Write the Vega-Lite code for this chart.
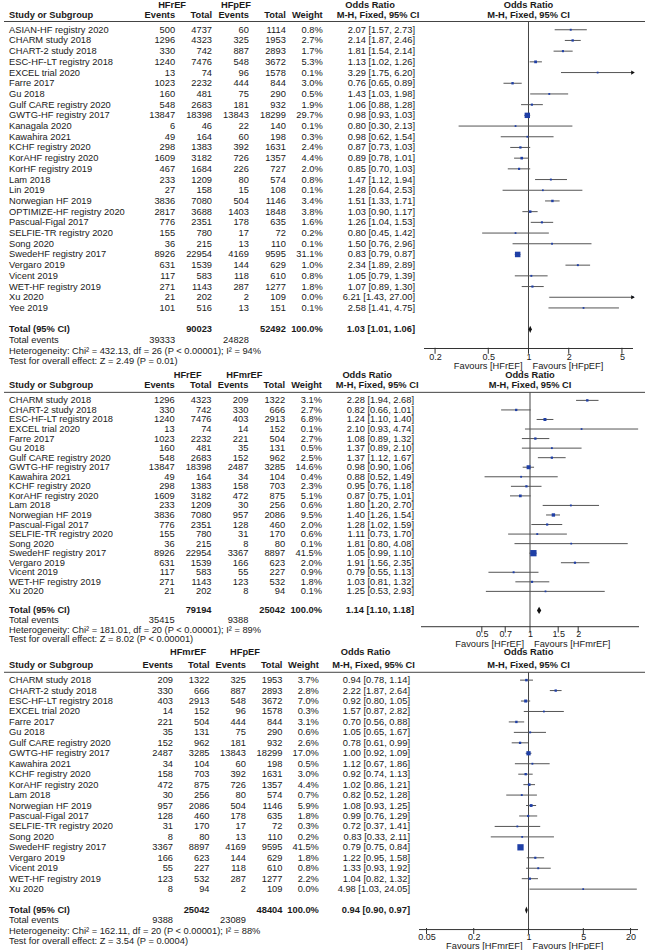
{
"$schema": "https://vega.github.io/schema/vega-lite/v6.json",
"padding": {"left": 3, "right": 3, "top": 0, "bottom": 0},
"bounds": "flush",
"spacing": 9.5,
"config": {"view": {"stroke": null}, "font": "Liberation Sans", "text": {"fontSize": 9.3, "color": "#1a1a1a", "baseline": "middle"}},
"datasets": {
"p1": [
{"row":"ASIAN-HF registry 2020","kind":"study","e1":500,"t1":4737,"e2":60,"t2":1114,"w":0.8,"or":2.07,"lo":1.57,"hi":2.73},
{"row":"CHARM study 2018","kind":"study","e1":1296,"t1":4323,"e2":325,"t2":1953,"w":2.7,"or":2.14,"lo":1.87,"hi":2.46},
{"row":"CHART-2 study 2018","kind":"study","e1":330,"t1":742,"e2":887,"t2":2893,"w":1.7,"or":1.81,"lo":1.54,"hi":2.14},
{"row":"ESC-HF-LT registry 2018","kind":"study","e1":1240,"t1":7476,"e2":548,"t2":3672,"w":5.3,"or":1.13,"lo":1.02,"hi":1.26},
{"row":"EXCEL trial 2020","kind":"study","e1":13,"t1":74,"e2":96,"t2":1578,"w":0.1,"or":3.29,"lo":1.75,"hi":6.20},
{"row":"Farre 2017","kind":"study","e1":1023,"t1":2232,"e2":444,"t2":844,"w":3.0,"or":0.76,"lo":0.65,"hi":0.89},
{"row":"Gu 2018","kind":"study","e1":160,"t1":481,"e2":75,"t2":290,"w":0.5,"or":1.43,"lo":1.03,"hi":1.98},
{"row":"Gulf CARE registry 2020","kind":"study","e1":548,"t1":2683,"e2":181,"t2":932,"w":1.9,"or":1.06,"lo":0.88,"hi":1.28},
{"row":"GWTG-HF registry 2017","kind":"study","e1":13847,"t1":18398,"e2":13843,"t2":18299,"w":29.7,"or":0.98,"lo":0.93,"hi":1.03},
{"row":"Kanagala 2020","kind":"study","e1":6,"t1":46,"e2":22,"t2":140,"w":0.1,"or":0.80,"lo":0.30,"hi":2.13},
{"row":"Kawahira 2021","kind":"study","e1":49,"t1":164,"e2":60,"t2":198,"w":0.3,"or":0.98,"lo":0.62,"hi":1.54},
{"row":"KCHF registry 2020","kind":"study","e1":298,"t1":1383,"e2":392,"t2":1631,"w":2.4,"or":0.87,"lo":0.73,"hi":1.03},
{"row":"KorAHF registry 2020","kind":"study","e1":1609,"t1":3182,"e2":726,"t2":1357,"w":4.4,"or":0.89,"lo":0.78,"hi":1.01},
{"row":"KorHF registry 2019","kind":"study","e1":467,"t1":1684,"e2":226,"t2":727,"w":2.0,"or":0.85,"lo":0.70,"hi":1.03},
{"row":"Lam 2018","kind":"study","e1":233,"t1":1209,"e2":80,"t2":574,"w":0.8,"or":1.47,"lo":1.12,"hi":1.94},
{"row":"Lin 2019","kind":"study","e1":27,"t1":158,"e2":15,"t2":108,"w":0.1,"or":1.28,"lo":0.64,"hi":2.53},
{"row":"Norwegian HF 2019","kind":"study","e1":3836,"t1":7080,"e2":504,"t2":1146,"w":3.4,"or":1.51,"lo":1.33,"hi":1.71},
{"row":"OPTIMIZE-HF registry 2020","kind":"study","e1":2817,"t1":3688,"e2":1403,"t2":1848,"w":3.8,"or":1.03,"lo":0.90,"hi":1.17},
{"row":"Pascual-Figal 2017","kind":"study","e1":776,"t1":2351,"e2":178,"t2":635,"w":1.6,"or":1.26,"lo":1.04,"hi":1.53},
{"row":"SELFIE-TR registry 2020","kind":"study","e1":155,"t1":780,"e2":17,"t2":72,"w":0.2,"or":0.80,"lo":0.45,"hi":1.42},
{"row":"Song 2020","kind":"study","e1":36,"t1":215,"e2":13,"t2":110,"w":0.1,"or":1.50,"lo":0.76,"hi":2.96},
{"row":"SwedeHF registry 2017","kind":"study","e1":8926,"t1":22954,"e2":4169,"t2":9595,"w":31.1,"or":0.83,"lo":0.79,"hi":0.87},
{"row":"Vergaro 2019","kind":"study","e1":631,"t1":1539,"e2":144,"t2":629,"w":1.0,"or":2.34,"lo":1.89,"hi":2.89},
{"row":"Vicent 2019","kind":"study","e1":117,"t1":583,"e2":118,"t2":610,"w":0.8,"or":1.05,"lo":0.79,"hi":1.39},
{"row":"WET-HF registry 2019","kind":"study","e1":271,"t1":1143,"e2":287,"t2":1277,"w":1.8,"or":1.07,"lo":0.89,"hi":1.30},
{"row":"Xu 2020","kind":"study","e1":21,"t1":202,"e2":2,"t2":109,"w":0.0,"or":6.21,"lo":1.43,"hi":27.00},
{"row":"Yee 2019","kind":"study","e1":101,"t1":516,"e2":13,"t2":151,"w":0.1,"or":2.58,"lo":1.41,"hi":4.75},
{"row":"Total (95% CI)","kind":"total","t1":90023,"t2":52492,"w":100,"or":1.03,"lo":1.01,"hi":1.06},
{"row":"Total events","kind":"events","e1":39333,"e2":24828},
{"row":"het","kind":"note","label":"Heterogeneity: Chi² = 432.13, df = 26 (P < 0.00001); I² = 94%"},
{"row":"test","kind":"note","label":"Test for overall effect: Z = 2.49 (P = 0.01)"}
],
"p2": [
{"row":"CHARM study 2018","kind":"study","e1":1296,"t1":4323,"e2":209,"t2":1322,"w":3.1,"or":2.28,"lo":1.94,"hi":2.68},
{"row":"CHART-2 study 2018","kind":"study","e1":330,"t1":742,"e2":330,"t2":666,"w":2.7,"or":0.82,"lo":0.66,"hi":1.01},
{"row":"ESC-HF-LT registry 2018","kind":"study","e1":1240,"t1":7476,"e2":403,"t2":2913,"w":6.8,"or":1.24,"lo":1.10,"hi":1.40},
{"row":"EXCEL trial 2020","kind":"study","e1":13,"t1":74,"e2":14,"t2":152,"w":0.1,"or":2.10,"lo":0.93,"hi":4.74},
{"row":"Farre 2017","kind":"study","e1":1023,"t1":2232,"e2":221,"t2":504,"w":2.7,"or":1.08,"lo":0.89,"hi":1.32},
{"row":"Gu 2018","kind":"study","e1":160,"t1":481,"e2":35,"t2":131,"w":0.5,"or":1.37,"lo":0.89,"hi":2.10},
{"row":"Gulf CARE registry 2020","kind":"study","e1":548,"t1":2683,"e2":152,"t2":962,"w":2.5,"or":1.37,"lo":1.12,"hi":1.67},
{"row":"GWTG-HF registry 2017","kind":"study","e1":13847,"t1":18398,"e2":2487,"t2":3285,"w":14.6,"or":0.98,"lo":0.90,"hi":1.06},
{"row":"Kawahira 2021","kind":"study","e1":49,"t1":164,"e2":34,"t2":104,"w":0.4,"or":0.88,"lo":0.52,"hi":1.49},
{"row":"KCHF registry 2020","kind":"study","e1":298,"t1":1383,"e2":158,"t2":703,"w":2.3,"or":0.95,"lo":0.76,"hi":1.18},
{"row":"KorAHF registry 2020","kind":"study","e1":1609,"t1":3182,"e2":472,"t2":875,"w":5.1,"or":0.87,"lo":0.75,"hi":1.01},
{"row":"Lam 2018","kind":"study","e1":233,"t1":1209,"e2":30,"t2":256,"w":0.6,"or":1.80,"lo":1.20,"hi":2.70},
{"row":"Norwegian HF 2019","kind":"study","e1":3836,"t1":7080,"e2":957,"t2":2086,"w":9.5,"or":1.40,"lo":1.26,"hi":1.54},
{"row":"Pascual-Figal 2017","kind":"study","e1":776,"t1":2351,"e2":128,"t2":460,"w":2.0,"or":1.28,"lo":1.02,"hi":1.59},
{"row":"SELFIE-TR registry 2020","kind":"study","e1":155,"t1":780,"e2":31,"t2":170,"w":0.6,"or":1.11,"lo":0.73,"hi":1.70},
{"row":"Song 2020","kind":"study","e1":36,"t1":215,"e2":8,"t2":80,"w":0.1,"or":1.81,"lo":0.80,"hi":4.08},
{"row":"SwedeHF registry 2017","kind":"study","e1":8926,"t1":22954,"e2":3367,"t2":8897,"w":41.5,"or":1.05,"lo":0.99,"hi":1.10},
{"row":"Vergaro 2019","kind":"study","e1":631,"t1":1539,"e2":166,"t2":623,"w":2.0,"or":1.91,"lo":1.56,"hi":2.35},
{"row":"Vicent 2019","kind":"study","e1":117,"t1":583,"e2":55,"t2":227,"w":0.9,"or":0.79,"lo":0.55,"hi":1.13},
{"row":"WET-HF registry 2019","kind":"study","e1":271,"t1":1143,"e2":123,"t2":532,"w":1.8,"or":1.03,"lo":0.81,"hi":1.32},
{"row":"Xu 2020","kind":"study","e1":21,"t1":202,"e2":8,"t2":94,"w":0.1,"or":1.25,"lo":0.53,"hi":2.93},
{"row":"Total (95% CI)","kind":"total","t1":79194,"t2":25042,"w":100,"or":1.14,"lo":1.10,"hi":1.18},
{"row":"Total events","kind":"events","e1":35415,"e2":9388},
{"row":"het","kind":"note","label":"Heterogeneity: Chi² = 181.01, df = 20 (P < 0.00001); I² = 89%"},
{"row":"test","kind":"note","label":"Test for overall effect: Z = 8.02 (P < 0.00001)"}
],
"p3": [
{"row":"CHARM study 2018","kind":"study","e1":209,"t1":1322,"e2":325,"t2":1953,"w":3.7,"or":0.94,"lo":0.78,"hi":1.14},
{"row":"CHART-2 study 2018","kind":"study","e1":330,"t1":666,"e2":887,"t2":2893,"w":2.8,"or":2.22,"lo":1.87,"hi":2.64},
{"row":"ESC-HF-LT registry 2018","kind":"study","e1":403,"t1":2913,"e2":548,"t2":3672,"w":7.0,"or":0.92,"lo":0.80,"hi":1.05},
{"row":"EXCEL trial 2020","kind":"study","e1":14,"t1":152,"e2":96,"t2":1578,"w":0.3,"or":1.57,"lo":0.87,"hi":2.82},
{"row":"Farre 2017","kind":"study","e1":221,"t1":504,"e2":444,"t2":844,"w":3.1,"or":0.70,"lo":0.56,"hi":0.88},
{"row":"Gu 2018","kind":"study","e1":35,"t1":131,"e2":75,"t2":290,"w":0.6,"or":1.05,"lo":0.65,"hi":1.67},
{"row":"Gulf CARE registry 2020","kind":"study","e1":152,"t1":962,"e2":181,"t2":932,"w":2.6,"or":0.78,"lo":0.61,"hi":0.99},
{"row":"GWTG-HF registry 2017","kind":"study","e1":2487,"t1":3285,"e2":13843,"t2":18299,"w":17.0,"or":1.00,"lo":0.92,"hi":1.09},
{"row":"Kawahira 2021","kind":"study","e1":34,"t1":104,"e2":60,"t2":198,"w":0.5,"or":1.12,"lo":0.67,"hi":1.86},
{"row":"KCHF registry 2020","kind":"study","e1":158,"t1":703,"e2":392,"t2":1631,"w":3.0,"or":0.92,"lo":0.74,"hi":1.13},
{"row":"KorAHF registry 2020","kind":"study","e1":472,"t1":875,"e2":726,"t2":1357,"w":4.4,"or":1.02,"lo":0.86,"hi":1.21},
{"row":"Lam 2018","kind":"study","e1":30,"t1":256,"e2":80,"t2":574,"w":0.7,"or":0.82,"lo":0.52,"hi":1.28},
{"row":"Norwegian HF 2019","kind":"study","e1":957,"t1":2086,"e2":504,"t2":1146,"w":5.9,"or":1.08,"lo":0.93,"hi":1.25},
{"row":"Pascual-Figal 2017","kind":"study","e1":128,"t1":460,"e2":178,"t2":635,"w":1.8,"or":0.99,"lo":0.76,"hi":1.29},
{"row":"SELFIE-TR registry 2020","kind":"study","e1":31,"t1":170,"e2":17,"t2":72,"w":0.3,"or":0.72,"lo":0.37,"hi":1.41},
{"row":"Song 2020","kind":"study","e1":8,"t1":80,"e2":13,"t2":110,"w":0.2,"or":0.83,"lo":0.33,"hi":2.11},
{"row":"SwedeHF registry 2017","kind":"study","e1":3367,"t1":8897,"e2":4169,"t2":9595,"w":41.5,"or":0.79,"lo":0.75,"hi":0.84},
{"row":"Vergaro 2019","kind":"study","e1":166,"t1":623,"e2":144,"t2":629,"w":1.8,"or":1.22,"lo":0.95,"hi":1.58},
{"row":"Vicent 2019","kind":"study","e1":55,"t1":227,"e2":118,"t2":610,"w":0.8,"or":1.33,"lo":0.93,"hi":1.92},
{"row":"WET-HF registry 2019","kind":"study","e1":123,"t1":532,"e2":287,"t2":1277,"w":2.2,"or":1.04,"lo":0.82,"hi":1.32},
{"row":"Xu 2020","kind":"study","e1":8,"t1":94,"e2":2,"t2":109,"w":0.0,"or":4.98,"lo":1.03,"hi":24.05},
{"row":"Total (95% CI)","kind":"total","t1":25042,"t2":48404,"w":100,"or":0.94,"lo":0.90,"hi":0.97},
{"row":"Total events","kind":"events","e1":9388,"e2":23089},
{"row":"het","kind":"note","label":"Heterogeneity: Chi² = 162.11, df = 20 (P < 0.00001); I² = 88%"},
{"row":"test","kind":"note","label":"Test for overall effect: Z = 3.54 (P = 0.0004)"}
]
},
"vconcat": [
{
"width": 641,
"height": {"step": 10.7},
"data": {"name": "p1"},
"encoding": {"y": {"field": "row", "type": "nominal", "axis": null, "scale": {"type": "band", "paddingInner": 0, "paddingOuter": 0, "domain": ["hdr1","hdr2","ASIAN-HF registry 2020","CHARM study 2018","CHART-2 study 2018","ESC-HF-LT registry 2018","EXCEL trial 2020","Farre 2017","Gu 2018","Gulf CARE registry 2020","GWTG-HF registry 2017","Kanagala 2020","Kawahira 2021","KCHF registry 2020","KorAHF registry 2020","KorHF registry 2019","Lam 2018","Lin 2019","Norwegian HF 2019","OPTIMIZE-HF registry 2020","Pascual-Figal 2017","SELFIE-TR registry 2020","Song 2020","SwedeHF registry 2017","Vergaro 2019","Vicent 2019","WET-HF registry 2019","Xu 2020","Yee 2019","gap","Total (95% CI)","Total events","het","test"]}}},
"layer": [
{"data": {"values": [{}]}, "mark": {"type": "rule", "color": "#444", "strokeWidth": 1}, "encoding": {"y": {"datum": "hdr2", "bandPosition": 0.73, "axis": null}}},
{"layer": [
{"transform": [
{"calculate": "datum.label ? datum.label : datum.row", "as": "name"},
{"calculate": "isValid(datum.w) ? format(datum.w, '.1f') + '%' : null", "as": "wtxt"},
{"calculate": "isValid(datum.or) ? format(datum.or, '.2f') + ' [' + format(datum.lo, '.2f') + ', ' + format(datum.hi, '.2f') + ']' : null", "as": "ortxt"},
{"fold": ["name","e1","t1","e2","t2","wtxt","ortxt"], "as": ["col","val"]},
{"filter": "isValid(datum.val)"}],
"mark": {"type": "text", "align": {"expr": "datum.col === 'name' ? 'left' : 'right'"}, "fontWeight": {"expr": "datum.kind === 'total' ? 'bold' : 'normal'"}},
"encoding": {"x": {"field": "col", "type": "nominal", "axis": null, "scale": {"type": "point", "padding": 0, "range": [5, 411], "domain": ["name","s1","s2","s3","s4","s5","s6","s7","s8","e1","s10","t1","s12","e2","s14","t2","s16","wtxt","s18","s19","orhdr","s21","ortxt"]}}, "text": {"field": "val", "type": "nominal"}}},
{"data": {"values": [{"col":"name","txt":"Study or Subgroup"},{"col":"e1","txt":"Events"},{"col":"t1","txt":"Total"},{"col":"e2","txt":"Events"},{"col":"t2","txt":"Total"},{"col":"wtxt","txt":"Weight"},{"col":"orhdr","txt":"M-H, Fixed, 95% CI"}]},
"mark": {"type": "text", "fontWeight": "bold", "dy": -4.5, "align": {"expr": "datum.col === 'name' ? 'left' : datum.col === 'orhdr' ? 'center' : 'right'"}},
"encoding": {"x": {"field": "col", "type": "nominal", "axis": null}, "y": {"datum": "hdr2", "axis": null}, "text": {"field": "txt", "type": "nominal"}}},
{"data": {"values": [{"col":"e1","txt":"HFrEF","shift":-3},{"col":"e2","txt":"HFpEF","shift":-13},{"col":"orhdr","txt":"Odds Ratio","shift":-8}]},
"mark": {"type": "text", "fontWeight": "bold", "dy": -3.8, "align": "center", "dx": {"expr": "datum.shift"}},
"encoding": {"x": {"field": "col", "type": "nominal", "axis": null}, "y": {"datum": "hdr1", "axis": null}, "text": {"field": "txt", "type": "nominal"}}}
]},
{"layer": [
{"data": {"values": [{}]}, "mark": {"type": "rule", "color": "#444", "strokeWidth": 1},
"encoding": {"x": {"datum": 1, "type": "quantitative", "scale": {"type": "log", "domain": [0.1653, 6.05], "range": [420, 629], "nice": false, "clamp": true}, "axis": {"orient": "bottom", "offset": -18.3, "values": [0.2, 0.5, 1, 2, 5], "format": "~g", "title": null, "grid": false, "domain": false, "ticks": false, "tickSize": 0, "labelPadding": 4, "labelFontSize": 9, "labelColor": "#1a1a1a", "labelFlush": false, "labelOverlap": false}}, "y": {"datum": "hdr2", "bandPosition": 0.73, "axis": null}, "y2": {"datum": "het", "bandPosition": 0.29}}},
{"data": {"values": [{}]}, "mark": {"type": "rule", "color": "#333", "strokeWidth": 1},
"encoding": {"x": {"datum": 0.1653, "type": "quantitative"}, "x2": {"datum": 6.05}, "y": {"datum": "het", "bandPosition": 0.29, "axis": null}}},
{"data": {"values": [{"v":0.2},{"v":0.5},{"v":1},{"v":2},{"v":5}]}, "mark": {"type": "tick", "orient": "vertical", "color": "#333", "thickness": 1, "size": 6, "opacity": 1},
"encoding": {"x": {"field": "v", "type": "quantitative"}, "y": {"datum": "het", "bandPosition": 0.29, "axis": null}}},
{"transform": [{"filter": "datum.kind === 'study'"}], "mark": {"type": "rule", "color": "#555", "strokeWidth": 1},
"encoding": {"x": {"field": "lo", "type": "quantitative"}, "x2": {"field": "hi"}}},
{"transform": [{"filter": "datum.kind === 'study'"}], "mark": {"type": "point", "shape": "square", "filled": true, "color": "#1f3fa6", "opacity": 1, "strokeWidth": 0},
"encoding": {"x": {"field": "or", "type": "quantitative"}, "size": {"field": "w", "type": "quantitative", "legend": null, "scale": {"domain": [0, 42], "range": [3, 40]}}}},
{"transform": [{"filter": "datum.kind === 'study' && datum.hi > 6.05"}], "mark": {"type": "point", "shape": "triangle-right", "filled": true, "color": "#111", "opacity": 1, "size": 18},
"encoding": {"x": {"field": "hi", "type": "quantitative"}}},
{"transform": [{"filter": "datum.kind === 'total'"}], "mark": {"type": "point", "shape": "M0,-1L0.45,0L0,1L-0.45,0Z", "filled": true, "color": "#111", "opacity": 1, "size": 52},
"encoding": {"x": {"field": "or", "type": "quantitative"}}},
{"data": {"values": [{"r":"hdr1","txt":"Odds Ratio","d":-3.8},{"r":"hdr2","txt":"M-H, Fixed, 95% CI","d":-4.5}]}, "mark": {"type": "text", "fontWeight": "bold", "align": "center", "dy": {"expr": "datum.d"}},
"encoding": {"x": {"datum": 1, "type": "quantitative"}, "y": {"field": "r", "type": "nominal", "axis": null}, "text": {"field": "txt", "type": "nominal"}}},
{"data": {"values": [{"txt":"Favours [HFrEF]","side":"left"},{"txt":"Favours [HFpEF]","side":"right"}]}, "mark": {"type": "text", "dy": 5, "align": {"expr": "datum.side === 'left' ? 'right' : 'left'"}, "dx": {"expr": "datum.side === 'left' ? -6 : 4"}},
"encoding": {"x": {"datum": 1, "type": "quantitative"}, "y": {"datum": "test", "axis": null}, "text": {"field": "txt", "type": "nominal"}}}
]}
],
"resolve": {"scale": {"x": "independent"}}
},
{
"width": 641,
"height": {"step": 9.55},
"data": {"name": "p2"},
"encoding": {"y": {"field": "row", "type": "nominal", "axis": null, "scale": {"type": "band", "paddingInner": 0, "paddingOuter": 0, "domain": ["hdr1","hdr2","CHARM study 2018","CHART-2 study 2018","ESC-HF-LT registry 2018","EXCEL trial 2020","Farre 2017","Gu 2018","Gulf CARE registry 2020","GWTG-HF registry 2017","Kawahira 2021","KCHF registry 2020","KorAHF registry 2020","Lam 2018","Norwegian HF 2019","Pascual-Figal 2017","SELFIE-TR registry 2020","Song 2020","SwedeHF registry 2017","Vergaro 2019","Vicent 2019","WET-HF registry 2019","Xu 2020","gap","Total (95% CI)","Total events","het","test"]}}},
"layer": [
{"data": {"values": [{}]}, "mark": {"type": "rule", "color": "#444", "strokeWidth": 1}, "encoding": {"y": {"datum": "hdr2", "bandPosition": 0.66, "axis": null}}},
{"layer": [
{"transform": [
{"calculate": "datum.label ? datum.label : datum.row", "as": "name"},
{"calculate": "isValid(datum.w) ? format(datum.w, '.1f') + '%' : null", "as": "wtxt"},
{"calculate": "isValid(datum.or) ? format(datum.or, '.2f') + ' [' + format(datum.lo, '.2f') + ', ' + format(datum.hi, '.2f') + ']' : null", "as": "ortxt"},
{"fold": ["name","e1","t1","e2","t2","wtxt","ortxt"], "as": ["col","val"]},
{"filter": "isValid(datum.val)"}],
"mark": {"type": "text", "align": {"expr": "datum.col === 'name' ? 'left' : 'right'"}, "fontWeight": {"expr": "datum.kind === 'total' ? 'bold' : 'normal'"}},
"encoding": {"x": {"field": "col", "type": "nominal", "axis": null, "scale": {"type": "point", "padding": 0, "range": [5, 410], "domain": ["name","s1","s2","s3","s4","s5","s6","s7","s8","e1","s10","t1","s12","e2","s14","t2","s16","wtxt","s18","s19","orhdr","s21","ortxt"]}}, "text": {"field": "val", "type": "nominal"}}},
{"data": {"values": [{"col":"name","txt":"Study or Subgroup"},{"col":"e1","txt":"Events"},{"col":"t1","txt":"Total"},{"col":"e2","txt":"Events"},{"col":"t2","txt":"Total"},{"col":"wtxt","txt":"Weight"},{"col":"orhdr","txt":"M-H, Fixed, 95% CI"}]},
"mark": {"type": "text", "fontWeight": "bold", "dy": -6.1, "align": {"expr": "datum.col === 'name' ? 'left' : datum.col === 'orhdr' ? 'center' : 'right'"}},
"encoding": {"x": {"field": "col", "type": "nominal", "axis": null}, "y": {"datum": "hdr2", "axis": null}, "text": {"field": "txt", "type": "nominal"}}},
{"data": {"values": [{"col":"e1","txt":"HFrEF","shift":13},{"col":"e2","txt":"HFmrEF","shift":-4},{"col":"orhdr","txt":"Odds Ratio","shift":-10}]},
"mark": {"type": "text", "fontWeight": "bold", "dy": -6.6, "align": "center", "dx": {"expr": "datum.shift"}},
"encoding": {"x": {"field": "col", "type": "nominal", "axis": null}, "y": {"datum": "hdr1", "axis": null}, "text": {"field": "txt", "type": "nominal"}}}
]},
{"layer": [
{"data": {"values": [{}]}, "mark": {"type": "rule", "color": "#444", "strokeWidth": 1},
"encoding": {"x": {"datum": 1, "type": "quantitative", "scale": {"type": "log", "domain": [0.2084, 4.798], "range": [417, 635], "nice": false, "clamp": true}, "axis": {"orient": "bottom", "offset": -17.2, "values": [0.5, 0.7, 1, 1.5, 2], "format": "~g", "title": null, "grid": false, "domain": false, "ticks": false, "tickSize": 0, "labelPadding": 3, "labelFontSize": 9, "labelColor": "#1a1a1a", "labelFlush": false, "labelOverlap": false}}, "y": {"datum": "hdr2", "bandPosition": 0.66, "axis": null}, "y2": {"datum": "het", "bandPosition": 0.2}}},
{"data": {"values": [{}]}, "mark": {"type": "rule", "color": "#333", "strokeWidth": 1},
"encoding": {"x": {"datum": 0.2084, "type": "quantitative"}, "x2": {"datum": 4.798}, "y": {"datum": "het", "bandPosition": 0.2, "axis": null}}},
{"data": {"values": [{"v":0.5},{"v":0.7},{"v":1},{"v":1.5},{"v":2}]}, "mark": {"type": "tick", "orient": "vertical", "color": "#333", "thickness": 1, "size": 6, "opacity": 1},
"encoding": {"x": {"field": "v", "type": "quantitative"}, "y": {"datum": "het", "bandPosition": 0.2, "axis": null}}},
{"transform": [{"filter": "datum.kind === 'study'"}], "mark": {"type": "rule", "color": "#555", "strokeWidth": 1},
"encoding": {"x": {"field": "lo", "type": "quantitative"}, "x2": {"field": "hi"}}},
{"transform": [{"filter": "datum.kind === 'study'"}], "mark": {"type": "point", "shape": "square", "filled": true, "color": "#1f3fa6", "opacity": 1, "strokeWidth": 0},
"encoding": {"x": {"field": "or", "type": "quantitative"}, "size": {"field": "w", "type": "quantitative", "legend": null, "scale": {"domain": [0, 42], "range": [3, 40]}}}},
{"transform": [{"filter": "datum.kind === 'total'"}], "mark": {"type": "point", "shape": "M0,-1L0.6,0L0,1L-0.6,0Z", "filled": true, "color": "#111", "opacity": 1, "size": 52},
"encoding": {"x": {"field": "or", "type": "quantitative"}}},
{"data": {"values": [{"r":"hdr1","txt":"Odds Ratio","d":-6.6},{"r":"hdr2","txt":"M-H, Fixed, 95% CI","d":-6.1}]}, "mark": {"type": "text", "fontWeight": "bold", "align": "center", "dy": {"expr": "datum.d"}},
"encoding": {"x": {"datum": 1, "type": "quantitative"}, "y": {"field": "r", "type": "nominal", "axis": null}, "text": {"field": "txt", "type": "nominal"}}},
{"data": {"values": [{"txt":"Favours [HFrEF]","side":"left"},{"txt":"Favours [HFmrEF]","side":"right"}]}, "mark": {"type": "text", "dy": 5.2, "align": {"expr": "datum.side === 'left' ? 'right' : 'left'"}, "dx": {"expr": "datum.side === 'left' ? -6 : 4"}},
"encoding": {"x": {"datum": 1, "type": "quantitative"}, "y": {"datum": "test", "axis": null}, "text": {"field": "txt", "type": "nominal"}}}
]}
],
"resolve": {"scale": {"x": "independent"}}
},
{
"width": 641,
"height": {"step": 10.45},
"data": {"name": "p3"},
"encoding": {"y": {"field": "row", "type": "nominal", "axis": null, "scale": {"type": "band", "paddingInner": 0, "paddingOuter": 0, "domain": ["hdr1","hdr2","CHARM study 2018","CHART-2 study 2018","ESC-HF-LT registry 2018","EXCEL trial 2020","Farre 2017","Gu 2018","Gulf CARE registry 2020","GWTG-HF registry 2017","Kawahira 2021","KCHF registry 2020","KorAHF registry 2020","Lam 2018","Norwegian HF 2019","Pascual-Figal 2017","SELFIE-TR registry 2020","Song 2020","SwedeHF registry 2017","Vergaro 2019","Vicent 2019","WET-HF registry 2019","Xu 2020","gap","Total (95% CI)","Total events","het","test"]}}},
"layer": [
{"data": {"values": [{}]}, "mark": {"type": "rule", "color": "#444", "strokeWidth": 1}, "encoding": {"y": {"datum": "hdr2", "bandPosition": 0.75, "axis": null}}},
{"layer": [
{"transform": [
{"calculate": "datum.label ? datum.label : datum.row", "as": "name"},
{"calculate": "isValid(datum.w) ? format(datum.w, '.1f') + '%' : null", "as": "wtxt"},
{"calculate": "isValid(datum.or) ? format(datum.or, '.2f') + ' [' + format(datum.lo, '.2f') + ', ' + format(datum.hi, '.2f') + ']' : null", "as": "ortxt"},
{"fold": ["name","e1","t1","e2","t2","wtxt","ortxt"], "as": ["col","val"]},
{"filter": "isValid(datum.val)"}],
"mark": {"type": "text", "align": {"expr": "datum.col === 'name' ? 'left' : 'right'"}, "fontWeight": {"expr": "datum.kind === 'total' ? 'bold' : 'normal'"}},
"encoding": {"x": {"field": "col", "type": "nominal", "axis": null, "scale": {"type": "point", "padding": 0, "range": [5, 406], "domain": ["name","s1","s2","s3","s4","s5","s6","s7","s8","e1","s10","t1","s12","e2","s14","t2","s16","wtxt","s18","s19","orhdr","s21","ortxt"]}}, "text": {"field": "val", "type": "nominal"}}},
{"data": {"values": [{"col":"name","txt":"Study or Subgroup"},{"col":"e1","txt":"Events"},{"col":"t1","txt":"Total"},{"col":"e2","txt":"Events"},{"col":"t2","txt":"Total"},{"col":"wtxt","txt":"Weight"},{"col":"orhdr","txt":"M-H, Fixed, 95% CI"}]},
"mark": {"type": "text", "fontWeight": "bold", "dy": -4.4, "align": {"expr": "datum.col === 'name' ? 'left' : datum.col === 'orhdr' ? 'center' : 'right'"}},
"encoding": {"x": {"field": "col", "type": "nominal", "axis": null}, "y": {"datum": "hdr2", "axis": null}, "text": {"field": "txt", "type": "nominal"}}},
{"data": {"values": [{"col":"e1","txt":"HFmrEF","shift":15},{"col":"e2","txt":"HFpEF","shift":-1},{"col":"orhdr","txt":"Odds Ratio","shift":-8}]},
"mark": {"type": "text", "fontWeight": "bold", "dy": -7.2, "align": "center", "dx": {"expr": "datum.shift"}},
"encoding": {"x": {"field": "col", "type": "nominal", "axis": null}, "y": {"datum": "hdr1", "axis": null}, "text": {"field": "txt", "type": "nominal"}}}
]},
{"layer": [
{"data": {"values": [{}]}, "mark": {"type": "rule", "color": "#444", "strokeWidth": 1},
"encoding": {"x": {"datum": 1, "type": "quantitative", "scale": {"type": "log", "domain": [0.0401, 24.9], "range": [415, 634], "nice": false, "clamp": true}, "axis": {"orient": "bottom", "offset": -17, "values": [0.05, 0.2, 1, 5, 20], "format": "~g", "title": null, "grid": false, "domain": false, "ticks": false, "tickSize": 0, "labelPadding": 3, "labelFontSize": 9, "labelColor": "#1a1a1a", "labelFlush": false, "labelOverlap": false}}, "y": {"datum": "hdr2", "bandPosition": 0.75, "axis": null}, "y2": {"datum": "het", "bandPosition": 0.37}}},
{"data": {"values": [{}]}, "mark": {"type": "rule", "color": "#333", "strokeWidth": 1},
"encoding": {"x": {"datum": 0.0401, "type": "quantitative"}, "x2": {"datum": 24.9}, "y": {"datum": "het", "bandPosition": 0.37, "axis": null}}},
{"data": {"values": [{"v":0.05},{"v":0.2},{"v":1},{"v":5},{"v":20}]}, "mark": {"type": "tick", "orient": "vertical", "color": "#333", "thickness": 1, "size": 6, "opacity": 1},
"encoding": {"x": {"field": "v", "type": "quantitative"}, "y": {"datum": "het", "bandPosition": 0.37, "axis": null}}},
{"transform": [{"filter": "datum.kind === 'study'"}], "mark": {"type": "rule", "color": "#555", "strokeWidth": 1},
"encoding": {"x": {"field": "lo", "type": "quantitative"}, "x2": {"field": "hi"}}},
{"transform": [{"filter": "datum.kind === 'study'"}], "mark": {"type": "point", "shape": "square", "filled": true, "color": "#1f3fa6", "opacity": 1, "strokeWidth": 0},
"encoding": {"x": {"field": "or", "type": "quantitative"}, "size": {"field": "w", "type": "quantitative", "legend": null, "scale": {"domain": [0, 42], "range": [3, 40]}}}},
{"transform": [{"filter": "datum.kind === 'total'"}], "mark": {"type": "point", "shape": "M0,-1L0.37,0L0,1L-0.37,0Z", "filled": true, "color": "#111", "opacity": 1, "size": 52},
"encoding": {"x": {"field": "or", "type": "quantitative"}}},
{"data": {"values": [{"r":"hdr1","txt":"Odds Ratio","d":-7.2},{"r":"hdr2","txt":"M-H, Fixed, 95% CI","d":-4.4}]}, "mark": {"type": "text", "fontWeight": "bold", "align": "center", "dy": {"expr": "datum.d"}},
"encoding": {"x": {"datum": 1, "type": "quantitative"}, "y": {"field": "r", "type": "nominal", "axis": null}, "text": {"field": "txt", "type": "nominal"}}},
{"data": {"values": [{"txt":"Favours [HFmrEF]","side":"left"},{"txt":"Favours [HFpEF]","side":"right"}]}, "mark": {"type": "text", "dy": 4.8, "align": {"expr": "datum.side === 'left' ? 'right' : 'left'"}, "dx": {"expr": "datum.side === 'left' ? -6 : 4"}},
"encoding": {"x": {"datum": 1, "type": "quantitative"}, "y": {"datum": "test", "axis": null}, "text": {"field": "txt", "type": "nominal"}}}
]}
],
"resolve": {"scale": {"x": "independent"}}
}
]
}
